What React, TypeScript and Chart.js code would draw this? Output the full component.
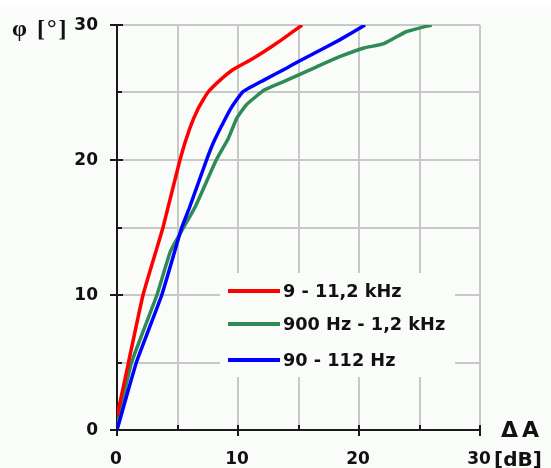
import React, { useEffect, useRef } from "react";
import { Chart, registerables } from "chart.js";

Chart.register(...registerables);

// ---- data (ΔA in dB, φ in degrees) ----
const redDB = [0, 0.95, 2.15, 3.8, 5.2, 6.0, 6.7, 7.5, 8.5, 9.6, 11.1, 12.1, 13.6, 15.3];
const redDeg = [1, 5, 10, 15, 20, 22.3, 23.8, 25, 25.9, 26.7, 27.45, 28, 28.9, 30];

const greenDB = [0, 1.2, 3.3, 4.4, 5.5, 6.5, 8.2, 9.2, 9.9, 10.7, 12.2, 14.0, 16.5, 18.4, 20.4, 22.0, 23.9, 26.0];
const greenDeg = [0.3, 5, 10, 13.2, 15, 16.6, 20, 21.6, 23.1, 24.1, 25.2, 25.9, 26.9, 27.65, 28.3, 28.6, 29.5, 30];

const blueDB = [0, 1.6, 3.7, 5.35, 6.0, 7.4, 8.0, 8.8, 9.5, 10.4, 12.1, 14.0, 15.0, 16.5, 18.4, 20.5];
const blueDeg = [0, 5, 10, 15, 16.5, 20, 21.35, 22.8, 23.95, 25.05, 25.9, 26.8, 27.3, 28, 28.9, 30];

const seriesLabels = ["9 - 11,2 kHz", "900 Hz - 1,2 kHz", "90 - 112 Hz"];
const seriesColors = ["#ff0000", "#2e8b57", "#0000ff"];

const xMajorTicks = [0, 10, 20, 30];
const xTickLabels = ["0", "10", "20", "30"];
const yMajorTicks = [0, 10, 20, 30];
const yTickLabels = ["0", "10", "20", "30"];
const minorTicks = [5, 15, 25];

const yTitle = "φ [°]";
const xTitle = "ΔA";
const xUnit = "[dB]";

const BG = "#fafcfa";
const INK = "#111111";
const TICK_FONT = 'bold 17px "DejaVu Sans", Arial, sans-serif';
const LEGEND_FONT = 'bold 17.7px "DejaVu Sans", Arial, sans-serif';

function toPoints(xs: number[], ys: number[]) {
  return xs.map((x, i) => ({ x, y: ys[i] }));
}

const decorPlugin = {
  id: "decor",
  beforeDraw(chart: any) {
    const { ctx, width, height } = chart;
    ctx.save();
    ctx.fillStyle = "#ffffff";
    ctx.fillRect(0, 0, width, height);
    ctx.fillStyle = BG;
    ctx.fillRect(0, 7, width, height - 7);
    ctx.restore();
  },
  beforeDatasetsDraw(chart: any) {
    const { ctx, chartArea } = chart;
    const xs = chart.scales.x;
    const ys = chart.scales.y;
    const x0 = xs.getPixelForValue(0);
    const y0 = ys.getPixelForValue(0);
    ctx.save();
    ctx.strokeStyle = "#1a1a1a";
    ctx.lineWidth = 2;
    ctx.beginPath();
    ctx.moveTo(x0, chartArea.top);
    ctx.lineTo(x0, y0);
    ctx.moveTo(x0, y0);
    ctx.lineTo(chartArea.right, y0);
    yMajorTicks.forEach((v) => {
      const p = Math.round(ys.getPixelForValue(v));
      ctx.moveTo(x0 - 7, p);
      ctx.lineTo(x0 + 6, p);
    });
    minorTicks.forEach((v) => {
      const p = Math.round(ys.getPixelForValue(v));
      ctx.moveTo(x0, p);
      ctx.lineTo(x0 + 5, p);
    });
    xMajorTicks.forEach((v) => {
      const p = Math.round(xs.getPixelForValue(v));
      ctx.moveTo(p, y0 - 5);
      ctx.lineTo(p, y0 + 6);
    });
    minorTicks.forEach((v) => {
      const p = Math.round(xs.getPixelForValue(v));
      ctx.moveTo(p, y0);
      ctx.lineTo(p, y0 - 5);
    });
    ctx.stroke();
    ctx.restore();
  },
  afterDraw(chart: any) {
    const { ctx } = chart;
    const xs = chart.scales.x;
    const ys = chart.scales.y;
    const x0 = xs.getPixelForValue(0);
    const y0 = ys.getPixelForValue(0);
    ctx.save();
    ctx.fillStyle = INK;
    ctx.font = TICK_FONT;
    ctx.textAlign = "right";
    ctx.textBaseline = "middle";
    yMajorTicks.forEach((v, i) => {
      ctx.fillText(yTickLabels[i], x0 - 19, ys.getPixelForValue(v) + 1);
    });
    ctx.textAlign = "center";
    xMajorTicks.forEach((v, i) => {
      ctx.fillText(xTickLabels[i], xs.getPixelForValue(v) - 1, y0 + 30);
    });
    ctx.textAlign = "left";
    ctx.textBaseline = "alphabetic";
    ctx.font = 'bold 20px "DejaVu Sans", Arial, sans-serif';
    ctx.fillText(xUnit, 494, 466);
    ctx.font = 'bold 22px "DejaVu Sans", Arial, sans-serif';
    (ctx as any).letterSpacing = "4px";
    ctx.fillText(xTitle, 501, 437);
    ctx.font = 'bold 24px "Liberation Serif", "Times New Roman", serif';
    (ctx as any).letterSpacing = "2px";
    ctx.fillText(yTitle, 12, 36);
    (ctx as any).letterSpacing = "0px";

    // legend box inside plot
    ctx.fillStyle = BG;
    ctx.fillRect(220, 273, 235, 104);
    const rowY = [291, 324, 360];
    ctx.font = LEGEND_FONT;
    ctx.textBaseline = "middle";
    seriesLabels.forEach((lab, i) => {
      ctx.strokeStyle = seriesColors[i];
      ctx.lineWidth = 4;
      ctx.beginPath();
      ctx.moveTo(228, rowY[i]);
      ctx.lineTo(280, rowY[i]);
      ctx.stroke();
      ctx.fillStyle = INK;
      ctx.fillText(lab, 283, rowY[i] + 1);
    });
    ctx.restore();
  },
};

export default function App() {
  const ref = useRef<HTMLCanvasElement | null>(null);

  useEffect(() => {
    if (!ref.current) return;
    const series = [
      { xs: redDB, ys: redDeg, order: 1 },
      { xs: greenDB, ys: greenDeg, order: 2 },
      { xs: blueDB, ys: blueDeg, order: 0 },
    ];
    const chart = new Chart(ref.current, {
      type: "line",
      data: {
        datasets: series.map((s, i) => ({
          label: seriesLabels[i],
          data: toPoints(s.xs, s.ys),
          borderColor: seriesColors[i],
          backgroundColor: seriesColors[i],
          borderWidth: 3.5,
          pointRadius: 0,
          tension: 0.12,
          fill: false,
          order: s.order,
        })),
      },
      options: {
        animation: false,
        responsive: false,
        maintainAspectRatio: false,
        devicePixelRatio: 1,
        layout: { padding: { left: 117, top: 25, right: 71, bottom: 38 } },
        plugins: { legend: { display: false }, tooltip: { enabled: false } },
        scales: {
          x: {
            type: "linear",
            min: 0,
            max: 30,
            ticks: { stepSize: 5, display: false },
            grid: { color: "#c8c8c8", lineWidth: 2, drawTicks: false },
            border: { display: false },
            afterFit: (s: any) => {
              s.height = 0;
            },
          },
          y: {
            type: "linear",
            min: 0,
            max: 30,
            ticks: { stepSize: 5, display: false },
            grid: { color: "#c8c8c8", lineWidth: 2, drawTicks: false },
            border: { display: false },
            afterFit: (s: any) => {
              s.width = 0;
            },
          },
        },
      },
      plugins: [decorPlugin],
    });
    return () => chart.destroy();
  }, []);

  return (
    <div style={{ position: "fixed", left: 0, top: 0, width: 551, height: 468 }}>
      <canvas ref={ref} width={551} height={468} style={{ display: "block" }} />
    </div>
  );
}
